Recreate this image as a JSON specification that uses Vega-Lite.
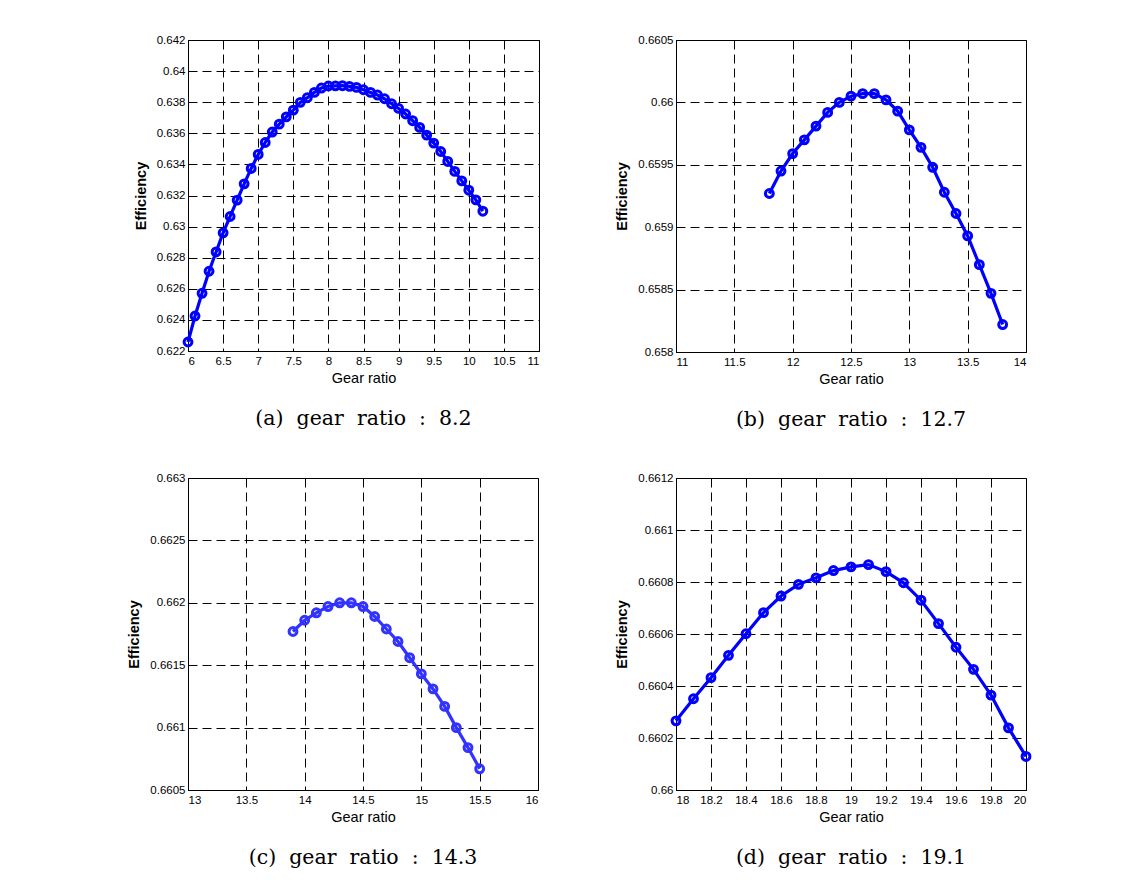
{
  "$schema": "https://vega.github.io/schema/vega-lite/v6.json",
  "background": "white",
  "padding": {"left": 126, "top": 33, "right": 5, "bottom": 5},
  "columns": 2,
  "spacing": {"row": 40, "column": 74},
  "config": {
    "view": {"stroke": "black", "strokeWidth": 1},
    "axis": {
      "grid": true, "gridColor": "black", "gridDash": [9, 5], "gridOpacity": 1, "gridWidth": 1,
      "domainColor": "black", "domainWidth": 1, "ticks": false,
      "labelFont": "Liberation Sans", "labelFontSize": 11.5, "labelColor": "black",
      "titleFont": "Liberation Sans", "titleColor": "black", "titleFontSize": 14.5,
      "format": "~g"
    },
    "axisX": {"labelPadding": 4, "titlePadding": 5, "titleFontWeight": "normal"},
    "axisY": {"labelPadding": 3, "titlePadding": 8, "titleFontWeight": "bold"},
    "title": {"font": "DejaVu Serif", "fontSize": 20.5, "fontWeight": "normal", "orient": "bottom", "offset": 24, "color": "black", "anchor": "middle"}
  },
  "datasets": {
    "a": [
      {"ratio": 6.0, "eff": 0.62258}, {"ratio": 6.1, "eff": 0.62425}, {"ratio": 6.2, "eff": 0.62571}, {"ratio": 6.3, "eff": 0.62713},
      {"ratio": 6.4, "eff": 0.62837}, {"ratio": 6.5, "eff": 0.6296}, {"ratio": 6.6, "eff": 0.63065}, {"ratio": 6.7, "eff": 0.6317},
      {"ratio": 6.8, "eff": 0.63275}, {"ratio": 6.9, "eff": 0.63374}, {"ratio": 7.0, "eff": 0.63464}, {"ratio": 7.1, "eff": 0.63541},
      {"ratio": 7.2, "eff": 0.63608}, {"ratio": 7.3, "eff": 0.63659}, {"ratio": 7.4, "eff": 0.63706}, {"ratio": 7.5, "eff": 0.63749},
      {"ratio": 7.6, "eff": 0.63799}, {"ratio": 7.7, "eff": 0.63829}, {"ratio": 7.8, "eff": 0.63863}, {"ratio": 7.9, "eff": 0.63891},
      {"ratio": 8.0, "eff": 0.63904}, {"ratio": 8.1, "eff": 0.63905}, {"ratio": 8.2, "eff": 0.63906}, {"ratio": 8.3, "eff": 0.63902},
      {"ratio": 8.4, "eff": 0.63895}, {"ratio": 8.5, "eff": 0.6388}, {"ratio": 8.6, "eff": 0.63863}, {"ratio": 8.7, "eff": 0.63846},
      {"ratio": 8.8, "eff": 0.63822}, {"ratio": 8.9, "eff": 0.6379}, {"ratio": 9.0, "eff": 0.6376}, {"ratio": 9.1, "eff": 0.63724},
      {"ratio": 9.2, "eff": 0.63681}, {"ratio": 9.3, "eff": 0.63638}, {"ratio": 9.4, "eff": 0.63588}, {"ratio": 9.5, "eff": 0.63537},
      {"ratio": 9.6, "eff": 0.63483}, {"ratio": 9.7, "eff": 0.63419}, {"ratio": 9.8, "eff": 0.63355}, {"ratio": 9.9, "eff": 0.63294},
      {"ratio": 10.0, "eff": 0.63234}, {"ratio": 10.1, "eff": 0.63172}, {"ratio": 10.2, "eff": 0.63099}
    ],
    "b": [
      {"ratio": 11.8, "eff": 0.65927}, {"ratio": 11.9, "eff": 0.65945}, {"ratio": 12.0, "eff": 0.65959}, {"ratio": 12.1, "eff": 0.6597},
      {"ratio": 12.2, "eff": 0.65981}, {"ratio": 12.3, "eff": 0.65992}, {"ratio": 12.4, "eff": 0.66}, {"ratio": 12.5, "eff": 0.66005},
      {"ratio": 12.6, "eff": 0.66007}, {"ratio": 12.7, "eff": 0.66007}, {"ratio": 12.8, "eff": 0.66002}, {"ratio": 12.9, "eff": 0.65993},
      {"ratio": 13.0, "eff": 0.65978}, {"ratio": 13.1, "eff": 0.65964}, {"ratio": 13.2, "eff": 0.65948}, {"ratio": 13.3, "eff": 0.65928},
      {"ratio": 13.4, "eff": 0.65911}, {"ratio": 13.5, "eff": 0.65893}, {"ratio": 13.6, "eff": 0.6587}, {"ratio": 13.7, "eff": 0.65847},
      {"ratio": 13.8, "eff": 0.65822}
    ],
    "c": [
      {"ratio": 13.9, "eff": 0.66177}, {"ratio": 14.0, "eff": 0.66186}, {"ratio": 14.1, "eff": 0.66192}, {"ratio": 14.2, "eff": 0.66197},
      {"ratio": 14.3, "eff": 0.662}, {"ratio": 14.4, "eff": 0.662}, {"ratio": 14.5, "eff": 0.66197}, {"ratio": 14.6, "eff": 0.66189},
      {"ratio": 14.7, "eff": 0.66179}, {"ratio": 14.8, "eff": 0.66169}, {"ratio": 14.9, "eff": 0.66156}, {"ratio": 15.0, "eff": 0.66143},
      {"ratio": 15.1, "eff": 0.66131}, {"ratio": 15.2, "eff": 0.66117}, {"ratio": 15.3, "eff": 0.661}, {"ratio": 15.4, "eff": 0.66084},
      {"ratio": 15.5, "eff": 0.66067}
    ],
    "d": [
      {"ratio": 18.0, "eff": 0.660266}, {"ratio": 18.1, "eff": 0.660351}, {"ratio": 18.2, "eff": 0.660432}, {"ratio": 18.3, "eff": 0.660518},
      {"ratio": 18.4, "eff": 0.660601}, {"ratio": 18.5, "eff": 0.660682}, {"ratio": 18.6, "eff": 0.660746}, {"ratio": 18.7, "eff": 0.660791},
      {"ratio": 18.8, "eff": 0.660816}, {"ratio": 18.9, "eff": 0.660844}, {"ratio": 19.0, "eff": 0.660858}, {"ratio": 19.1, "eff": 0.660867},
      {"ratio": 19.2, "eff": 0.66084}, {"ratio": 19.3, "eff": 0.660797}, {"ratio": 19.4, "eff": 0.66073}, {"ratio": 19.5, "eff": 0.66064},
      {"ratio": 19.6, "eff": 0.660549}, {"ratio": 19.7, "eff": 0.660464}, {"ratio": 19.8, "eff": 0.660365}, {"ratio": 19.9, "eff": 0.660239},
      {"ratio": 20.0, "eff": 0.660129}
    ]
  },
  "concat": [
    {
      "width": 351, "height": 311,
      "title": {"text": "(a)\u00a0\u00a0gear\u00a0\u00a0ratio\u00a0\u00a0:\u00a0\u00a08.2"},
      "data": {"name": "a"},
      "encoding": {
        "x": {"field": "ratio", "type": "quantitative", "scale": {"domain": [6, 11], "nice": false, "zero": false},
              "axis": {"title": "Gear ratio", "values": [6, 6.5, 7, 7.5, 8, 8.5, 9, 9.5, 10, 10.5, 11]}},
        "y": {"field": "eff", "type": "quantitative", "scale": {"domain": [0.622, 0.642], "nice": false, "zero": false},
              "axis": {"title": "Efficiency", "values": [0.622, 0.624, 0.626, 0.628, 0.63, 0.632, 0.634, 0.636, 0.638, 0.64, 0.642]}}
      },
      "layer": [
        {"mark": {"type": "line", "color": "#0000ff", "strokeWidth": 3.2}},
        {"mark": {"type": "point", "shape": "circle", "filled": false, "color": "#0000ff", "strokeWidth": 3, "size": 62, "opacity": 1}}
      ]
    },
    {
      "width": 350, "height": 312,
      "title": {"text": "(b)\u00a0\u00a0gear\u00a0\u00a0ratio\u00a0\u00a0:\u00a0\u00a012.7"},
      "data": {"name": "b"},
      "encoding": {
        "x": {"field": "ratio", "type": "quantitative", "scale": {"domain": [11, 14], "nice": false, "zero": false},
              "axis": {"title": "Gear ratio", "values": [11, 11.5, 12, 12.5, 13, 13.5, 14]}},
        "y": {"field": "eff", "type": "quantitative", "scale": {"domain": [0.658, 0.6605], "nice": false, "zero": false},
              "axis": {"title": "Efficiency", "values": [0.658, 0.6585, 0.659, 0.6595, 0.66, 0.6605]}}
      },
      "layer": [
        {"mark": {"type": "line", "color": "#0000ff", "strokeWidth": 3.2}},
        {"mark": {"type": "point", "shape": "circle", "filled": false, "color": "#0000ff", "strokeWidth": 3, "size": 62, "opacity": 1}}
      ]
    },
    {
      "width": 350, "height": 312,
      "title": {"text": "(c)\u00a0\u00a0gear\u00a0\u00a0ratio\u00a0\u00a0:\u00a0\u00a014.3"},
      "data": {"name": "c"},
      "encoding": {
        "x": {"field": "ratio", "type": "quantitative", "scale": {"domain": [13, 16], "nice": false, "zero": false},
              "axis": {"title": "Gear ratio", "values": [13, 13.5, 14, 14.5, 15, 15.5, 16]}},
        "y": {"field": "eff", "type": "quantitative", "scale": {"domain": [0.6605, 0.663], "nice": false, "zero": false},
              "axis": {"title": "Efficiency", "values": [0.6605, 0.661, 0.6615, 0.662, 0.6625, 0.663]}}
      },
      "layer": [
        {"mark": {"type": "line", "color": "#3333ff", "strokeWidth": 3.2}},
        {"mark": {"type": "point", "shape": "circle", "filled": false, "color": "#3333ff", "strokeWidth": 3, "size": 62, "opacity": 1}}
      ]
    },
    {
      "width": 350, "height": 312,
      "title": {"text": "(d)\u00a0\u00a0gear\u00a0\u00a0ratio\u00a0\u00a0:\u00a0\u00a019.1"},
      "data": {"name": "d"},
      "encoding": {
        "x": {"field": "ratio", "type": "quantitative", "scale": {"domain": [18, 20], "nice": false, "zero": false},
              "axis": {"title": "Gear ratio", "values": [18, 18.2, 18.4, 18.6, 18.8, 19, 19.2, 19.4, 19.6, 19.8, 20]}},
        "y": {"field": "eff", "type": "quantitative", "scale": {"domain": [0.66, 0.6612], "nice": false, "zero": false},
              "axis": {"title": "Efficiency", "values": [0.66, 0.6602, 0.6604, 0.6606, 0.6608, 0.661, 0.6612]}}
      },
      "layer": [
        {"mark": {"type": "line", "color": "#0000ff", "strokeWidth": 3.2}},
        {"mark": {"type": "point", "shape": "circle", "filled": false, "color": "#0000ff", "strokeWidth": 3, "size": 62, "opacity": 1}}
      ]
    }
  ]
}
